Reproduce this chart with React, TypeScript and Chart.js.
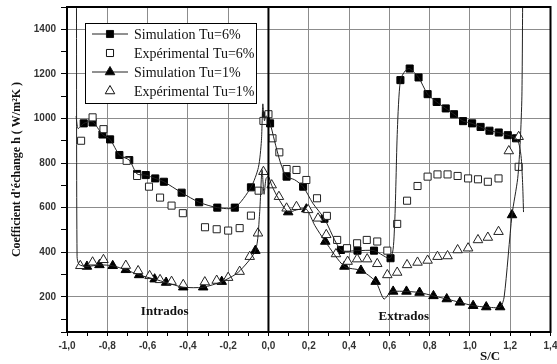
import React, { useEffect, useRef } from "react";
import { Chart, registerables } from "chart.js";

Chart.register(...registerables);

// ---- Data (S/C, h in W/m²K) ----
// Simulation Tu=6% : markers
const sim6MarkX = [-0.917, -0.873, -0.824, -0.786, -0.74, -0.691, -0.652, -0.609, -0.562, -0.519, -0.431, -0.344, -0.254, -0.167, -0.087, -0.012, 0.008, 0.09, 0.172, 0.278, 0.36, 0.442, 0.524, 0.606, 0.655, 0.701, 0.745, 0.79, 0.835, 0.88, 0.921, 0.966, 1.011, 1.053, 1.097, 1.143, 1.188, 1.229];
const sim6MarkY = [978, 982, 928, 906, 836, 813, 751, 746, 731, 716, 667, 624, 600, 600, 691, 1012, 978, 739, 694, 550, 410, 407, 407, 373, 1172, 1224, 1184, 1109, 1074, 1045, 1019, 988, 978, 962, 945, 937, 925, 911];
// Simulation Tu=6% : curve
const sim6CurveX = [-0.955, -0.945, -0.917, -0.873, -0.824, -0.786, -0.74, -0.691, -0.652, -0.609, -0.562, -0.519, -0.431, -0.344, -0.254, -0.167, -0.087, -0.05, -0.035, -0.028, -0.02, -0.012, 0.008, 0.03, 0.06, 0.09, 0.13, 0.172, 0.22, 0.278, 0.36, 0.442, 0.524, 0.606, 0.625, 0.64, 0.655, 0.68, 0.701, 0.745, 0.79, 0.835, 0.88, 0.921, 0.966, 1.011, 1.053, 1.097, 1.143, 1.188, 1.229, 1.245, 1.255, 1.262, 1.266];
const sim6CurveY = [1010, 955, 978, 985, 928, 906, 836, 813, 751, 746, 731, 716, 667, 624, 600, 600, 691, 780, 900, 1065, 990, 1012, 978, 900, 800, 739, 725, 694, 620, 550, 410, 407, 407, 373, 500, 950, 1172, 1215, 1224, 1184, 1109, 1074, 1045, 1019, 988, 978, 962, 945, 937, 925, 911, 880, 820, 700, 580];

// Expérimental Tu=6%
const exp6X = [-0.93, -0.873, -0.819, -0.704, -0.652, -0.593, -0.538, -0.481, -0.425, -0.315, -0.257, -0.2, -0.143, -0.087, -0.049, -0.025, 0.0, 0.02, 0.054, 0.09, 0.139, 0.188, 0.241, 0.29, 0.341, 0.39, 0.44, 0.488, 0.54, 0.59, 0.639, 0.688, 0.74, 0.79, 0.839, 0.889, 0.939, 0.991, 1.04, 1.089, 1.142, 1.242];
const exp6Y = [900, 1005, 952, 810, 742, 694, 645, 609, 575, 512, 503, 497, 508, 564, 676, 989, 1019, 911, 848, 773, 769, 724, 642, 563, 455, 418, 440, 455, 448, 407, 527, 631, 697, 739, 749, 749, 742, 731, 727, 716, 731, 783];

// Simulation Tu=1% : markers
const sim1MarkX = [-0.901, -0.839, -0.773, -0.708, -0.642, -0.565, -0.508, -0.423, -0.324, -0.232, -0.065, 0.098, 0.188, 0.282, 0.377, 0.459, 0.532, 0.619, 0.685, 0.75, 0.819, 0.885, 0.95, 1.016, 1.081, 1.15, 1.209];
const sim1MarkY = [336, 343, 339, 321, 298, 279, 264, 243, 243, 268, 407, 580, 593, 448, 336, 318, 268, 224, 224, 219, 204, 190, 175, 160, 154, 154, 567];
// Simulation Tu=1% : curve
const sim1CurveX = [-0.953, -0.95, -0.94, -0.901, -0.839, -0.773, -0.708, -0.642, -0.565, -0.508, -0.423, -0.324, -0.232, -0.15, -0.065, -0.045, -0.032, -0.022, -0.012, 0.0, 0.016, 0.05, 0.098, 0.14, 0.188, 0.23, 0.282, 0.377, 0.459, 0.532, 0.573, 0.6, 0.619, 0.685, 0.75, 0.819, 0.885, 0.95, 1.016, 1.081, 1.15, 1.17, 1.209, 1.237, 1.25, 1.258, 1.262];
const sim1CurveY = [1550, 380, 345, 336, 343, 339, 321, 298, 279, 264, 243, 243, 268, 310, 407, 560, 770, 660, 730, 740, 700, 640, 580, 590, 593, 520, 448, 336, 318, 268, 190, 215, 224, 224, 219, 204, 190, 175, 160, 154, 154, 200, 567, 730, 900, 1100, 1550];

// Expérimental Tu=1%
const exp1X = [-0.934, -0.873, -0.819, -0.708, -0.647, -0.59, -0.538, -0.481, -0.423, -0.316, -0.257, -0.2, -0.143, -0.093, -0.052, -0.025, 0.016, 0.052, 0.09, 0.139, 0.197, 0.246, 0.287, 0.335, 0.393, 0.44, 0.49, 0.54, 0.59, 0.639, 0.688, 0.74, 0.79, 0.839, 0.889, 0.939, 0.991, 1.04, 1.089, 1.142, 1.193, 1.242];
const exp1Y = [339, 355, 366, 340, 316, 294, 276, 268, 254, 266, 273, 286, 313, 380, 485, 761, 701, 649, 597, 604, 590, 552, 478, 392, 358, 369, 369, 348, 298, 309, 343, 354, 363, 380, 383, 410, 418, 455, 466, 492, 854, 918];

// Separation line intrados / extrados
const sepX = [0, 0];
const sepY = [42, 1500];

const legendLabels = ["Simulation Tu=6%", "Expérimental Tu=6%", "Simulation Tu=1%", "Expérimental Tu=1%"];
const yTitle = "Coefficient d'échange h ( W/m²K )";
const xTitle = "S/C";

const pts = (xs: number[], ys: number[]) => xs.map((x, i) => ({ x, y: ys[i] }));

const INK = "#111";

function drawMarker(ctx: CanvasRenderingContext2D, style: string, x: number, y: number, r: number, fill: string) {
  ctx.beginPath();
  if (style === "rect") {
    const s = Math.SQRT1_2 * r;
    ctx.rect(x - s, y - s, 2 * s, 2 * s);
  } else {
    let rad = 0;
    ctx.moveTo(x + Math.sin(rad) * r, y - Math.cos(rad) * r);
    rad += (2 * Math.PI) / 3;
    ctx.lineTo(x + Math.sin(rad) * r, y - Math.cos(rad) * r);
    rad += (2 * Math.PI) / 3;
    ctx.lineTo(x + Math.sin(rad) * r, y - Math.cos(rad) * r);
    ctx.closePath();
  }
  ctx.fillStyle = fill;
  ctx.fill();
  ctx.lineWidth = 1;
  ctx.strokeStyle = INK;
  ctx.stroke();
}

const decorPlugin = {
  id: "decor",
  afterDraw(chart: any) {
    const { ctx, chartArea } = chart;
    const xs = chart.scales.x;
    const ys = chart.scales.y;
    ctx.save();
    // frame
    ctx.strokeStyle = "#000";
    ctx.lineWidth = 2;
    ctx.strokeRect(chartArea.left, chartArea.top, chartArea.right - chartArea.left, chartArea.bottom - chartArea.top);

    // annotations
    ctx.fillStyle = INK;
    ctx.font = "bold 13px 'Liberation Serif'";
    ctx.textAlign = "center";
    ctx.textBaseline = "middle";
    ctx.fillText("Intrados", xs.getPixelForValue(-0.515), ys.getPixelForValue(133));
    ctx.fillText("Extrados", xs.getPixelForValue(0.672), ys.getPixelForValue(110));
    ctx.fillText(xTitle, xs.getPixelForValue(1.1), chartArea.bottom + 25);

    // legend
    const bx = 85, by = 23, bw = 171, bh = 80;
    ctx.fillStyle = "#fff";
    ctx.fillRect(bx, by, bw, bh);
    ctx.strokeStyle = "#000";
    ctx.lineWidth = 1;
    ctx.strokeRect(bx + 0.5, by + 0.5, bw, bh);
    const rows = [34, 53, 72, 91];
    const kinds = [
      { line: true, style: "rect", fill: "#000", r: 5 },
      { line: false, style: "rect", fill: "#fff", r: 5 },
      { line: true, style: "triangle", fill: "#000", r: 5.5 },
      { line: false, style: "triangle", fill: "#fff", r: 5.5 },
    ];
    rows.forEach((ry, i) => {
      const k = kinds[i];
      if (k.line) {
        ctx.beginPath();
        ctx.moveTo(92, ry);
        ctx.lineTo(128, ry);
        ctx.strokeStyle = "#222";
        ctx.lineWidth = 1;
        ctx.stroke();
      }
      drawMarker(ctx, k.style, 110, ry, k.r, k.fill);
      ctx.fillStyle = INK;
      ctx.font = "14px 'Liberation Serif'";
      ctx.textAlign = "left";
      ctx.textBaseline = "middle";
      ctx.fillText(legendLabels[i], 134, ry + 1);
    });
    ctx.restore();
  },
};

export default function App() {
  const ref = useRef<HTMLCanvasElement>(null);
  useEffect(() => {
    document.body.style.margin = "0";
    document.body.style.overflow = "hidden";
    const canvas = ref.current!;
    const curveStyle = {
      showLine: true,
      borderColor: "#222",
      borderWidth: 1,
      pointRadius: 0,
      tension: 0.25,
      fill: false,
    };
    const chart = new Chart(canvas, {
      type: "scatter",
      data: {
        datasets: [
          { label: "sep", data: pts(sepX, sepY), showLine: true, borderColor: "#000", borderWidth: 2, pointRadius: 0 },
          { label: "sim6 curve", data: pts(sim6CurveX, sim6CurveY), ...curveStyle },
          { label: "sim1 curve", data: pts(sim1CurveX, sim1CurveY), ...curveStyle },
          { label: legendLabels[1], data: pts(exp6X, exp6Y), pointStyle: "rect", pointRadius: 5, backgroundColor: "#fff", borderColor: "#222", borderWidth: 1 },
          { label: legendLabels[3], data: pts(exp1X, exp1Y), pointStyle: "triangle", pointRadius: 5.5, backgroundColor: "#fff", borderColor: "#222", borderWidth: 1 },
          { label: legendLabels[0], data: pts(sim6MarkX, sim6MarkY), pointStyle: "rect", pointRadius: 5, backgroundColor: "#000", borderColor: "#000", borderWidth: 1 },
          { label: legendLabels[2], data: pts(sim1MarkX, sim1MarkY), pointStyle: "triangle", pointRadius: 5.5, backgroundColor: "#000", borderColor: "#000", borderWidth: 1 },
        ],
      },
      options: {
        animation: false,
        responsive: false,
        maintainAspectRatio: false,
        layout: { padding: { top: 7, right: 2, left: 0, bottom: 0 } },
        plugins: { legend: { display: false }, tooltip: { enabled: false } },
        scales: {
          x: {
            type: "linear",
            min: -1.0,
            max: 1.4,
            afterFit: (s: any) => {
              s.height = 32;
              s.paddingLeft = 0;
              s.paddingRight = 0;
            },
            ticks: {
              stepSize: 0.1,
              autoSkip: false,
              maxRotation: 0,
              padding: 4,
              color: "#333",
              font: { family: "'Liberation Sans'", size: 10, weight: "bold" },
              callback: (v: any) => {
                const k = Math.round(Number(v) * 10);
                if (k % 2 !== 0) return "";
                return (k / 10).toFixed(1).replace(".", ",");
              },
            },
            grid: {
              color: (c: any) => {
                const k = Math.round(Number(c.tick?.value) * 10);
                return k % 2 === 0 ? "#8c8c8c" : "rgba(0,0,0,0)";
              },
              lineWidth: 1,
              tickColor: "#000",
              tickLength: 4,
              drawTicks: true,
            },
            border: { color: "#000", width: 2 },
          },
          y: {
            type: "linear",
            min: 42,
            max: 1500,
            afterFit: (s: any) => {
              s.width = 67;
              s.paddingTop = 0;
              s.paddingBottom = 0;
            },
            ticks: {
              stepSize: 100,
              autoSkip: false,
              padding: 5,
              color: "#333",
              font: { family: "'Liberation Sans'", size: 10, weight: "bold" },
              callback: (v: any) => {
                const n = Number(v);
                return n % 200 === 0 && n >= 200 && n <= 1400 ? String(n) : "";
              },
            },
            grid: {
              color: (c: any) => {
                const n = Number(c.tick?.value);
                return n % 200 === 0 ? "#8c8c8c" : "rgba(0,0,0,0)";
              },
              lineWidth: 1,
              tickColor: "#000",
              tickLength: 6,
            },
            border: { color: "#000", width: 2 },
            title: {
              display: true,
              text: yTitle,
              color: INK,
              font: { family: "'Liberation Serif'", size: 12, weight: "bold" },
              padding: { top: 10, bottom: 0 },
            },
          },
        },
      },
      plugins: [decorPlugin],
    } as any);
    return () => chart.destroy();
  }, []);
  return <canvas ref={ref} width={557} height={364} style={{ display: "block" }} />;
}
